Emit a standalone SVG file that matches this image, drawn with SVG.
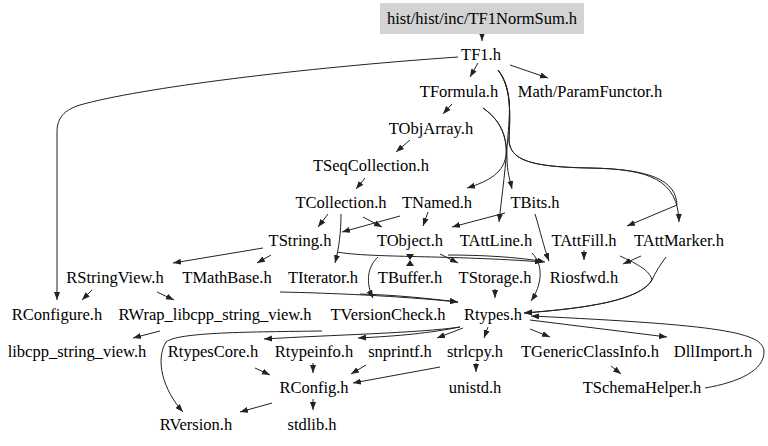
<svg xmlns="http://www.w3.org/2000/svg" width="768" height="446" viewBox="0 0 768 446">
<style>
.t text{font-family:"Liberation Serif","Times New Roman",serif;font-size:16.5px;fill:#000;text-anchor:middle}
.e{fill:none;stroke:#222;stroke-width:1;marker-end:url(#ah)}
.h{fill:#222;stroke:none}
</style>
<defs>
<marker id="ah" markerUnits="userSpaceOnUse" markerWidth="9" markerHeight="7" refX="8" refY="3" orient="auto" viewBox="0 0 9 7">
<path d="M0,0 L8,3 L0,6 z" fill="#222"/>
</marker>
</defs>
<rect width="768" height="446" fill="#fff"/>
<g id="edges">
<path class="e" d="M482,34 L482,41"/>
<path class="e" d="M478,63 L470,77"/>
<path class="e" d="M510,65 L548,78"/>
<path class="e" d="M458,57 C300,68 140,88 80,105 C64,110 57,118 57,132 L57,300"/>
<path class="e" d="M498,70 C512,88 510,110 508,135 C506,165 502,195 499,222"/>
<path class="e" d="M498,70 C512,88 510,115 509,140 C510,160 530,167 590,168 C650,169 678,180 679,222"/>
<path class="e" d="M498,70 C512,88 510,115 509,140 C510,160 530,167 590,168 C650,169 676,180 677,205 L627,226"/>
<path class="e" d="M452,104 L443,114"/>
<path class="e" d="M483,108 C500,120 507,135 506,155 C504,172 490,181 467,188"/>
<path class="e" d="M483,108 C500,120 507,135 507,158 C507,172 510,180 512,189"/>
<path class="e" d="M410,140 L396,152"/>
<path class="e" d="M365,178 L356,189"/>
<path class="e" d="M328,214 L318,227"/>
<path class="e" d="M341,214 C341,232 339,248 335,263"/>
<path class="e" d="M363,217 L382,227"/>
<path class="e" d="M400,216 L342,232"/>
<path class="e" d="M428,212 L423,226"/>
<path class="e" d="M505,213 L452,227"/>
<path class="e" d="M535,214 C540,230 544,248 549,261"/>
<path class="e" d="M263,248 L173,263"/>
<path class="e" d="M271,255 L257,263"/>
<path class="e" d="M337,252 C370,258 450,255 543,262"/>
<path class="e" d="M440,254 L458,263"/>
<path class="e" d="M448,255 C480,255 520,257 545,262"/>
<path class="e" d="M378,257 C368,266 365,282 373,298"/>
<path class="e" d="M532,253 C544,265 542,285 531,301"/>
<path class="e" d="M584,250 L584,260"/>
<path class="e" d="M641,256 L623,264"/>
<path class="e" d="M620,256 C635,263 650,270 652,280 C640,300 590,308 524,313"/>
<path class="e" d="M666,257 C660,265 655,273 652,280 C640,300 590,308 524,313"/>
<path class="h" d="M406,254 L414,254 L410,260 L414,266 L406,266 L410,260 z"/>
<path class="e" d="M92,290 L82,300"/>
<path class="e" d="M157,292 L174,300"/>
<path class="e" d="M280,292 C330,293 400,296 458,302"/>
<path class="e" d="M360,294 C395,295 425,298 458,302"/>
<path class="e" d="M495,289 L495,298"/>
<path class="e" d="M160,331 L133,338"/>
<path class="e" d="M322,331 C250,332 178,332 166,342 C155,360 163,390 183,412"/>
<path class="e" d="M460,327 C420,333 330,335 264,339"/>
<path class="e" d="M460,327 C430,333 400,336 358,338"/>
<path class="e" d="M463,328 L437,338"/>
<path class="e" d="M488,327 L484,338"/>
<path class="e" d="M530,329 L550,337"/>
<path class="e" d="M530,320 L667,337"/>
<path class="e" d="M705,388 C740,382 764,370 764,352 C764,332 720,325 531,316"/>
<path class="e" d="M611,366 L621,374"/>
<path class="e" d="M476,363 L476,372"/>
<path class="e" d="M440,367 L353,383"/>
<path class="e" d="M366,365 L351,374"/>
<path class="e" d="M313,363 L313,373"/>
<path class="e" d="M255,368 L270,375"/>
<path class="e" d="M272,403 L240,412"/>
<path class="e" d="M313,399 L313,410"/>
</g>
<g class="t">
<g id="n0"><rect x="380" y="3" width="204" height="31" fill="#d3d3d3"/><text x="482" y="24">hist/hist/inc/TF1NormSum.h</text></g>
<g id="n1"><text x="481" y="60">TF1.h</text></g>
<g id="n2"><text x="459" y="97">TFormula.h</text></g>
<g id="n3"><text x="590" y="97">Math/ParamFunctor.h</text></g>
<g id="n4"><text x="431" y="134">TObjArray.h</text></g>
<g id="n5"><text x="371" y="171">TSeqCollection.h</text></g>
<g id="n6"><text x="341" y="208">TCollection.h</text></g>
<g id="n7"><text x="437" y="208">TNamed.h</text></g>
<g id="n8"><text x="535" y="208">TBits.h</text></g>
<g id="n9"><text x="300" y="246">TString.h</text></g>
<g id="n10"><text x="410" y="246">TObject.h</text></g>
<g id="n11"><text x="496" y="246">TAttLine.h</text></g>
<g id="n12"><text x="584" y="246">TAttFill.h</text></g>
<g id="n13"><text x="679" y="246">TAttMarker.h</text></g>
<g id="n14"><text x="115" y="283">RStringView.h</text></g>
<g id="n15"><text x="227" y="283">TMathBase.h</text></g>
<g id="n16"><text x="323" y="283">TIterator.h</text></g>
<g id="n17"><text x="410" y="283">TBuffer.h</text></g>
<g id="n18"><text x="495" y="283">TStorage.h</text></g>
<g id="n19"><text x="584" y="283">Riosfwd.h</text></g>
<g id="n20"><text x="57" y="320">RConfigure.h</text></g>
<g id="n21"><text x="215" y="320">RWrap_libcpp_string_view.h</text></g>
<g id="n22"><text x="388" y="320">TVersionCheck.h</text></g>
<g id="n23"><text x="493" y="320">Rtypes.h</text></g>
<g id="n24"><text x="77" y="357">libcpp_string_view.h</text></g>
<g id="n25"><text x="213" y="357">RtypesCore.h</text></g>
<g id="n26"><text x="314" y="357">Rtypeinfo.h</text></g>
<g id="n27"><text x="400" y="357">snprintf.h</text></g>
<g id="n28"><text x="475" y="357">strlcpy.h</text></g>
<g id="n29"><text x="590" y="357">TGenericClassInfo.h</text></g>
<g id="n30"><text x="713" y="357">DllImport.h</text></g>
<g id="n31"><text x="314" y="393">RConfig.h</text></g>
<g id="n32"><text x="475" y="393">unistd.h</text></g>
<g id="n33"><text x="642" y="393">TSchemaHelper.h</text></g>
<g id="n34"><text x="196" y="430">RVersion.h</text></g>
<g id="n35"><text x="312" y="430">stdlib.h</text></g>
</g>
</svg>
